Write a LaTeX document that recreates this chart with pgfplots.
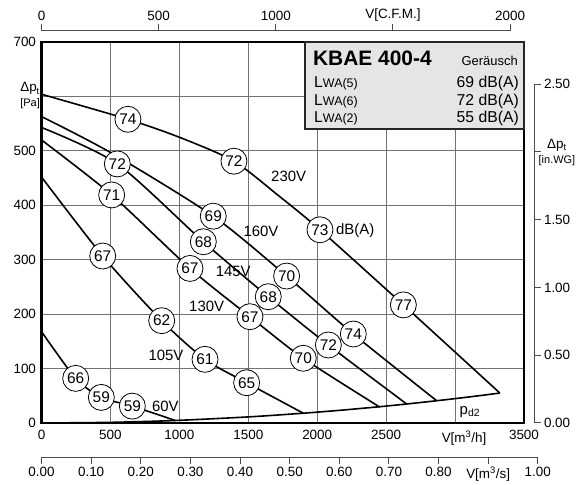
\documentclass[border=0pt]{standalone}
\usepackage{pgfplots}
\pgfplotsset{compat=1.18}
\usepackage{fontspec}
\setmainfont{Liberation Sans}
\definecolor{gridc}{gray}{0.45}
\definecolor{boxfill}{gray}{0.9}
\newcommand{\tlfont}{\fontsize{13.5}{15}\selectfont}
\newcommand{\cfont}{\fontsize{15.5}{16}\selectfont}
\newcommand{\lfont}{\fontsize{15}{16}\selectfont}
\begin{document}
\begin{tikzpicture}
\useasboundingbox (-41.5bp,-62bp) rectangle (534.5bp,423bp);
% main axis
\begin{axis}[
  at={(0,0)}, anchor=south west,
  scale only axis, width=482.5bp, height=381bp,
  xmin=0, xmax=3500, ymin=0, ymax=700,
  xtick={0,500,1000,1500,2000,2500,3000,3500},
  xticklabels={0,500,1000,1500,2000,2500,{\hspace{18bp}V[m\textsuperscript{3}/h]},3500},
  ytick={0,100,200,300,400,500,600,700},
  yticklabels={0,100,200,300,400,500,{},700},
  grid=major, major grid style={gridc, line width=0.9bp},
  major tick length=0pt,
  axis line style={line width=2.3bp, black},
  tick label style={font=\tlfont},
  xticklabel style={yshift=-4bp},
  yticklabel style={xshift=-2bp},
  /pgf/number format/assume math mode=true,
  clip=false,
]
% p_d2 curve
\addplot[black, line width=1.6bp, smooth] coordinates {
 (0,0) (500,1.2) (966,4.6) (1500,11.2) (1899,18) (2200,24.1) (2455,30) (2648,34.9) (2866,40.9) (3100,47.8) (3325,55)};
% 230V
\addplot[black, line width=1.6bp, smooth, tension=0.45] coordinates {
 (0,604) (627,558) (1010,524) (1396,481) (1718,418) (2020,355) (2625,217) (3325,55)};
% 160V
\addplot[black, line width=1.6bp, smooth, tension=0.45] coordinates {
 (0,563) (500,497) (1246,380) (1778,270) (2262,163.5) (2866,41)};
% 145V
\addplot[black, line width=1.6bp, smooth, tension=0.45] coordinates {
 (0,543) (550,476) (1174,333) (1645,232) (2081,143.3) (2648,35)};
% 130V
\addplot[black, line width=1.6bp, smooth, tension=0.45] coordinates {
 (0,520) (509,419) (1077,284) (1512,195.3) (1899,118.9) (2455,29)};
% 105V
\addplot[black, line width=1.6bp, smooth, tension=0.45] coordinates {
 (0,452) (444,306.8) (872,188) (1186,117) (1488,74) (1899,18)};
% 60V
\addplot[black, line width=1.6bp, smooth, tension=0.45] coordinates {
 (0,168) (248,82) (434,47) (659,31) (966,5)};
% circles
\addplot[draw=none, mark=none, nodes near coords, point meta=explicit symbolic,
  nodes near coords style={circle, draw=black, line width=0.8bp, fill=white,
  minimum size=26bp, inner sep=0pt, anchor=center, font=\cfont}] coordinates {
 (627,558) [74] (1396,481) [72] (2020,355) [73] (2625,217) [77]
 (1246,380) [69] (1778,270) [70] (2262,163.5) [74]
 (550,476) [72] (1174,333) [68] (1645,232) [68] (2081,143.3) [72]
 (509,419) [71] (1077,284) [67] (1512,195.3) [67] (1899,118.9) [70]
 (444,306.8) [67] (872,188) [62] (1186,117) [61] (1488,74) [65]
 (248,82) [66] (434,47) [59] (659,31) [59]
};
% labels
\node[font=\lfont] at (axis cs:1793,452.5) {230V};
\node[font=\lfont] at (axis cs:1592,351.5) {160V};
\node[font=\lfont] at (axis cs:1391,278) {145V};
\node[font=\lfont] at (axis cs:1198,215) {130V};
\node[font=\lfont] at (axis cs:903,125) {105V};
\node[font=\lfont] at (axis cs:898,31) {60V};
\node[font=\lfont, anchor=west, inner sep=0pt] at (axis cs:2136,353) {dB(A)};
\node[font=\lfont] at (axis cs:3108,21) {p\textsubscript{d2}};
% left / right unit labels
\node[align=center, font=\tlfont] at (axis cs:-83,601) {Δp\textsubscript{t}\\{\fontsize{11}{12}\selectfont [Pa]}};
\node[align=center, font=\tlfont] at (axis cs:3739,497) {Δp\textsubscript{t}\\{\fontsize{11}{12}\selectfont [in.WG]}};
% legend box
\draw[line width=2.4bp, draw=black!85, fill=boxfill] (axis cs:1911,540) rectangle (axis cs:3500,700);
\node[anchor=base west, inner sep=0pt, font=\bfseries\fontsize{21}{22}\selectfont] at (axis cs:1969,656) {KBAE 400-4};
\node[anchor=base east, inner sep=0pt, font=\fontsize{13}{14}\selectfont] at (axis cs:3456,656) {Geräusch};
\node[anchor=base west, inner sep=0pt] at (axis cs:1977,616.4) {{\fontsize{15.8}{16}\selectfont L}{\fontsize{12.5}{13}\selectfont WA(5)}};
\node[anchor=base west, inner sep=0pt] at (axis cs:1977,583.6) {{\fontsize{15.8}{16}\selectfont L}{\fontsize{12.5}{13}\selectfont WA(6)}};
\node[anchor=base west, inner sep=0pt] at (axis cs:1977,551.7) {{\fontsize{15.8}{16}\selectfont L}{\fontsize{12.5}{13}\selectfont WA(2)}};
\node[anchor=base east, inner sep=0pt, font=\fontsize{15.8}{16}\selectfont] at (axis cs:3464,616.4) {69 dB(A)};
\node[anchor=base east, inner sep=0pt, font=\fontsize{15.8}{16}\selectfont] at (axis cs:3464,583.6) {72 dB(A)};
\node[anchor=base east, inner sep=0pt, font=\fontsize{15.8}{16}\selectfont] at (axis cs:3464,551.7) {55 dB(A)};
\end{axis}
% top CFM axis
\begin{axis}[
  at={(0,392bp)}, anchor=north west,
  scale only axis, width=468.6bp, height=10bp,
  xmin=0, xmax=2000, ymin=0, ymax=1,
  axis x line=top, axis y line=none,
  xtick={0,500,1000,1500,2000},
  xticklabels={0,500,1000,V[C.F.M.],2000},
  tick align=outside, major tick length=6.5bp,
  axis line style={-, line width=1bp, black!70},
  tick style={line width=1bp, black!70},
  tick label style={font=\tlfont},
  /pgf/number format/assume math mode=true,
]
\addplot[draw=none] coordinates {(0,0) (2000,1)};
\end{axis}
% right in.WG axis
\begin{axis}[
  at={(492.5bp,0)}, anchor=south east,
  scale only axis, width=10bp, height=338.9bp,
  xmin=0, xmax=1, ymin=0, ymax=2.5,
  axis y line=right, axis x line=none,
  ytick={0,0.5,1,1.5,2,2.5},
  yticklabels={0.00,0.50,1.00,1.50,{},2.50},
  tick align=outside, major tick length=6.5bp,
  axis line style={-, line width=1bp, black!70},
  tick style={line width=1bp, black!70},
  tick label style={font=\tlfont},
  /pgf/number format/assume math mode=true,
]
\addplot[draw=none] coordinates {(0,0) (1,2.5)};
\end{axis}
% bottom m3/s axis
\begin{axis}[
  at={(0,-34bp)}, anchor=south west,
  scale only axis, width=496.3bp, height=10bp,
  xmin=0, xmax=1, ymin=0, ymax=1,
  axis x line=bottom, axis y line=none,
  xtick={0,0.1,0.2,0.3,0.4,0.5,0.6,0.7,0.8,0.9,1.0},
  xticklabels={0.00,0.10,0.20,0.30,0.40,0.50,0.60,0.70,0.80,{V[m\textsuperscript{3}/s]},1.00},
  tick align=outside, major tick length=6.5bp,
  axis line style={-, line width=1bp, black!70},
  tick style={line width=1bp, black!70},
  tick label style={font=\tlfont},
  /pgf/number format/assume math mode=true,
]
\addplot[draw=none] coordinates {(0,0) (1,1)};
\end{axis}
\end{tikzpicture}
\end{document}
